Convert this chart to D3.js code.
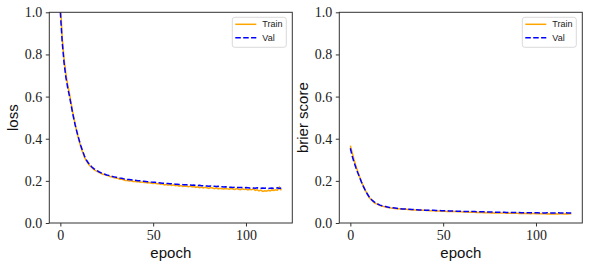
<!DOCTYPE html>
<html>
<head>
<meta charset="utf-8">
<script src="https://cdn.jsdelivr.net/npm/d3@7"></script>
<style>
  body { margin: 0; background: #fff; }
  .tick text { font-family: "Liberation Serif", "DejaVu Serif", serif; font-size: 14px; fill: #222; }
  .tick line { stroke: #333; }
  .lbl { font-family: "Liberation Sans", Arial, sans-serif; font-size: 15px; fill: #111; }
  .leg { font-family: "Liberation Sans", Arial, sans-serif; font-size: 9px; fill: #222; }
</style>
</head>
<body>
<svg id="chart" width="589" height="268"></svg>
<script>
// epochs 0..119
var epochs = d3.range(0, 120);

var lossTrain = [
  1.050, 0.880, 0.780, 0.708, 0.655, 0.610, 0.560, 0.512, 0.468, 0.428,
  0.393, 0.362, 0.336, 0.312, 0.295, 0.282, 0.271, 0.262, 0.255, 0.249,
  0.244, 0.239, 0.235, 0.231, 0.229, 0.226, 0.224, 0.220, 0.219, 0.215,
  0.214, 0.212, 0.208, 0.209, 0.205, 0.202, 0.203, 0.199, 0.201, 0.197,
  0.198, 0.196, 0.197, 0.194, 0.195, 0.192, 0.193, 0.190, 0.192, 0.189,
  0.188, 0.190, 0.186, 0.187, 0.184, 0.186, 0.181, 0.183, 0.179, 0.182,
  0.178, 0.181, 0.177, 0.179, 0.175, 0.178, 0.173, 0.176, 0.174, 0.172,
  0.175, 0.171, 0.173, 0.169, 0.172, 0.168, 0.170, 0.166, 0.169, 0.167,
  0.164, 0.168, 0.166, 0.163, 0.167, 0.162, 0.165, 0.163, 0.161, 0.164,
  0.162, 0.160, 0.164, 0.161, 0.159, 0.163, 0.160, 0.158, 0.162, 0.159,
  0.161, 0.157, 0.160, 0.158, 0.162, 0.155, 0.158, 0.152, 0.156, 0.150,
  0.153, 0.151, 0.155, 0.152, 0.157, 0.154, 0.158, 0.156, 0.170, 0.155
];
var lossVal = [
  1.000, 0.860, 0.760, 0.690, 0.640, 0.598, 0.550, 0.505, 0.465, 0.430,
  0.398, 0.368, 0.342, 0.318, 0.300, 0.286, 0.275, 0.266, 0.258, 0.252,
  0.247, 0.242, 0.238, 0.234, 0.231, 0.228, 0.226, 0.223, 0.221, 0.219,
  0.217, 0.215, 0.213, 0.212, 0.210, 0.209, 0.207, 0.206, 0.205, 0.204,
  0.203, 0.202, 0.201, 0.200, 0.199, 0.198, 0.197, 0.196, 0.195, 0.194,
  0.193, 0.193, 0.192, 0.191, 0.190, 0.189, 0.188, 0.188, 0.187, 0.186,
  0.186, 0.185, 0.184, 0.184, 0.183, 0.183, 0.182, 0.182, 0.181, 0.180,
  0.180, 0.179, 0.180, 0.178, 0.178, 0.179, 0.177, 0.177, 0.176, 0.176,
  0.175, 0.176, 0.174, 0.174, 0.173, 0.174, 0.172, 0.172, 0.171, 0.172,
  0.171, 0.170, 0.170, 0.169, 0.170, 0.168, 0.169, 0.168, 0.168, 0.167,
  0.168, 0.167, 0.166, 0.167, 0.166, 0.165, 0.167, 0.166, 0.165, 0.166,
  0.165, 0.166, 0.164, 0.165, 0.166, 0.164, 0.165, 0.167, 0.164, 0.166
];
var brierTrain = [
  0.367, 0.334, 0.300, 0.270, 0.244, 0.219, 0.196, 0.175, 0.156, 0.139,
  0.124, 0.112, 0.103, 0.096, 0.091, 0.087, 0.083, 0.080, 0.078, 0.076,
  0.074, 0.073, 0.071, 0.070, 0.069, 0.068, 0.068, 0.067, 0.066, 0.065,
  0.065, 0.064, 0.063, 0.063, 0.062, 0.062, 0.061, 0.061, 0.060, 0.060,
  0.060, 0.059, 0.059, 0.058, 0.058, 0.058, 0.057, 0.057, 0.057, 0.056,
  0.056, 0.056, 0.055, 0.055, 0.055, 0.054, 0.054, 0.054, 0.053, 0.053,
  0.053, 0.052, 0.053, 0.052, 0.051, 0.052, 0.051, 0.051, 0.050, 0.051,
  0.050, 0.050, 0.049, 0.050, 0.049, 0.049, 0.048, 0.049, 0.048, 0.048,
  0.047, 0.048, 0.047, 0.047, 0.046, 0.047, 0.046, 0.046, 0.047, 0.046,
  0.046, 0.045, 0.046, 0.045, 0.046, 0.045, 0.045, 0.044, 0.045, 0.045,
  0.044, 0.045, 0.044, 0.045, 0.044, 0.044, 0.043, 0.044, 0.043, 0.044,
  0.043, 0.044, 0.043, 0.044, 0.044, 0.043, 0.044, 0.043, 0.044, 0.044
];
var brierVal = [
  0.355, 0.318, 0.288, 0.262, 0.238, 0.216, 0.194, 0.174, 0.156, 0.140,
  0.126, 0.115, 0.106, 0.099, 0.094, 0.089, 0.085, 0.082, 0.080, 0.078,
  0.076, 0.074, 0.073, 0.072, 0.071, 0.070, 0.069, 0.068, 0.067, 0.067,
  0.066, 0.065, 0.065, 0.064, 0.064, 0.063, 0.063, 0.062, 0.062, 0.062,
  0.061, 0.061, 0.061, 0.060, 0.060, 0.060, 0.059, 0.059, 0.059, 0.058,
  0.058, 0.058, 0.058, 0.057, 0.057, 0.057, 0.056, 0.056, 0.056, 0.056,
  0.055, 0.055, 0.055, 0.055, 0.054, 0.054, 0.054, 0.054, 0.053, 0.053,
  0.053, 0.053, 0.053, 0.052, 0.052, 0.052, 0.052, 0.052, 0.051, 0.051,
  0.051, 0.051, 0.051, 0.051, 0.050, 0.050, 0.050, 0.050, 0.050, 0.050,
  0.050, 0.050, 0.049, 0.049, 0.049, 0.049, 0.049, 0.049, 0.049, 0.049,
  0.049, 0.049, 0.048, 0.049, 0.048, 0.048, 0.049, 0.048, 0.048, 0.048,
  0.048, 0.048, 0.049, 0.048, 0.048, 0.048, 0.049, 0.048, 0.048, 0.048
];

var xTicks = [0, 50, 100];
var yTicks = [0.0, 0.2, 0.4, 0.6, 0.8, 1.0];
var seriesNames = ["Train", "Val"];

var svg = d3.select("#chart");

// plot area size (same for both panels)
var w = 243, h = 210.7;

function panel(left, top, train, val, ylabel, id) {
  var x = d3.scaleLinear().domain([-5.95, 124.95]).range([0, w]);
  var y = d3.scaleLinear().domain([0, 1]).range([h, 0]);

  var g = svg.append("g").attr("transform", "translate(" + left + "," + top + ")");

  g.append("clipPath").attr("id", id)
    .append("rect").attr("width", w).attr("height", h);

  //axes
  var xa = g.append("g").attr("transform", "translate(0," + h + ")")
    .call(d3.axisBottom(x).tickValues(xTicks).tickSize(3.5).tickPadding(3.5).tickFormat(d3.format("d")));
  var ya = g.append("g")
    .call(d3.axisLeft(y).tickValues(yTicks).tickSize(3.5).tickPadding(3.5).tickFormat(d3.format(".1f")));
  xa.select(".domain").remove();
  ya.select(".domain").remove();

  var line = d3.line()
    .x(function(d, i) { return x(epochs[i]); })
    .y(function(d) { return y(d); });

  var lines = g.append("g").attr("clip-path", "url(#" + id + ")");
  lines.append("path").datum(train)
    .attr("d", line).attr("fill", "none")
    .attr("stroke", "orange").attr("stroke-width", 1.5);
  lines.append("path").datum(val)
    .attr("d", line).attr("fill", "none")
    .attr("stroke", "blue").attr("stroke-width", 1.5)
    .attr("stroke-dasharray", "5.5,2.4");

  //frame
  g.append("rect").attr("width", w).attr("height", h)
    .attr("fill", "none").attr("stroke", "#333").attr("stroke-width", 1);

  //labels
  g.append("text").attr("class", "lbl")
    .attr("x", w / 2).attr("y", h + 35)
    .attr("text-anchor", "middle").text("epoch");
  g.append("text").attr("class", "lbl")
    .attr("transform", "translate(-31," + (h / 2) + ") rotate(-90)")
    .attr("text-anchor", "middle").text(ylabel);

  //legend
  var lg = g.append("g").attr("transform", "translate(" + (w - 60) + ",5)");
  lg.append("rect").attr("width", 54).attr("height", 30).attr("rx", 2.5)
    .attr("fill", "#fff").attr("stroke", "#d0d0d0").attr("stroke-width", 0.8);
  seriesNames.forEach(function(name, i) {
    var yy = 7 + i * 13.5;
    lg.append("line").attr("x1", 3).attr("x2", 24).attr("y1", yy).attr("y2", yy)
      .attr("stroke", i == 0 ? "orange" : "blue").attr("stroke-width", 1.5)
      .attr("stroke-dasharray", i == 0 ? null : "5.5,2.4");
    lg.append("text").attr("class", "leg")
      .attr("x", 30).attr("y", yy + 3.2).text(name);
  });
}

panel(49.3, 12.3, lossTrain, lossVal, "loss", "clipA");
panel(339.3, 12.3, brierTrain, brierVal, "brier score", "clipB");
</script>
</body>
</html>
